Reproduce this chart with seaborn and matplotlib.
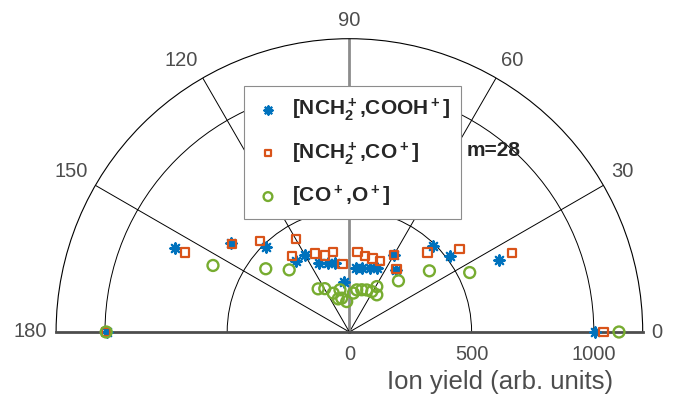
import numpy as np
import matplotlib
matplotlib.use("Agg")
import matplotlib.pyplot as plt
import seaborn as sns

# ---------------- data (angles in degrees, yields in arb. units) ----------------
theta_nch2_cooh = [180, 154.2, 143.1, 134.4, 126.9, 120.0, 113.6, 107.5, 101.5, 95.7,
                   84.3, 78.5, 72.5, 66.4, 60.0, 53.1, 45.6, 36.9, 25.8, 0]
r_nch2_cooh = [992, 792, 608, 486, 361, 366, 309, 297, 289, 207,
               264, 268, 275, 286, 364, 317, 491, 517, 680, 1005]

theta_nch2_co = [180, 154.2, 143.1, 134.4, 126.9, 120.0, 113.6, 107.5, 101.5, 95.7,
                 84.3, 78.5, 72.5, 66.4, 60.0, 53.1, 45.6, 36.9, 25.8, 0]
r_nch2_co = [995, 746, 600, 521, 389, 439, 351, 328, 334, 279,
             330, 318, 316, 316, 365, 322, 456, 564, 740, 1039]

theta_co_o = [180, 154.0, 142.9, 134.1, 125.9, 119.6, 112.6, 108.6, 102.6, 102.9, 95.1,
              84.2, 80.1, 73.7, 67.6, 61.0, 58.9, 53.6, 46.2, 37.4, 26.3, 0]
r_co_o = [995, 621, 429, 354, 218, 204, 172, 143, 177, 142, 125,
          160, 175, 180, 186, 189, 217, 189, 290, 412, 549, 1103]

labels = [r"[NCH$_2^+$,COOH$^+$]", r"[NCH$_2^+$,CO$^+$]", r"[CO$^+$,O$^+$]"]
theta_ticks = [0, 30, 60, 90, 120, 150, 180]
r_ticks = [0, 500, 1000]
r_max = 1200
annotation = "m=28"
r_label = "Ion yield (arb. units)"

# ---------------- styling ----------------
sns.set_style("white")
plt.rcParams["font.family"] = ["Liberation Sans", "DejaVu Sans"]
plt.rcParams["mathtext.fontset"] = "custom"
plt.rcParams["mathtext.rm"] = "Liberation Sans"
plt.rcParams["mathtext.bf"] = "Liberation Sans:bold"
plt.rcParams["mathtext.default"] = "bf"

c_blue, c_orange, c_green = "#0072BD", "#D95319", "#77AC30"
tick_color = "#4d4d4d"
tick_fs = 14.5

W, H = 674.0, 398.0
cx, cy, R = 349.4, 332.0, 293.3          # origin (px from top-left) and outer radius
box_cy = cy - R / 2
fig = plt.figure(figsize=(6.74, 3.98), dpi=100)
ax = fig.add_axes([(cx - R) / W, (H - box_cy - R) / H, 2 * R / W, 2 * R / H],
                  projection="polar")
ax.set_thetamin(0)
ax.set_thetamax(180)
ax.set_ylim(0, r_max)

# grid
ax.set_thetagrids(theta_ticks, [""] * len(theta_ticks))
ax.set_rgrids([500, 1000], labels=["", ""])
ax.grid(True, color="black", linewidth=0.7)
for t, gl in zip(theta_ticks, ax.xaxis.get_gridlines()):
    if t == 90:
        gl.set_color("#8c8c8c")
        gl.set_linewidth(2.0)
ax.tick_params(axis="both", length=0)

ax.spines["polar"].set_color("black")
ax.spines["polar"].set_linewidth(0.8)
for s in ("start", "end"):
    ax.spines[s].set_color("#4d4d4d")
    ax.spines[s].set_linewidth(2.0)
ax.spines["inner"].set_visible(False)

# theta tick labels, edge-aligned just outside the outer arc
gap = 6.5  # points
for t in theta_ticks:
    c, s = np.cos(np.deg2rad(t)), np.sin(np.deg2rad(t))
    ha = "left" if c > 0.1 else ("right" if c < -0.1 else "center")
    va = "bottom" if s > 0.1 else "center"
    ax.annotate(str(t), xy=(np.deg2rad(t), r_max), xycoords="data",
                xytext=(gap * c, gap * s), textcoords="offset points",
                ha=ha, va=va, fontsize=tick_fs, color=tick_color,
                annotation_clip=False)

# data
sns.scatterplot(x=np.deg2rad(theta_nch2_cooh), y=r_nch2_cooh, ax=ax, marker=(8, 2, 0),
                s=55, color=c_blue, edgecolor=c_blue, linewidth=1.6, label=labels[0],
                clip_on=False, zorder=5)
sns.scatterplot(x=np.deg2rad(theta_nch2_co), y=r_nch2_co, ax=ax, marker="s",
                s=36, facecolors="none", edgecolor=c_orange, linewidth=1.6, label=labels[1],
                clip_on=False, zorder=6)
sns.scatterplot(x=np.deg2rad(theta_co_o), y=r_co_o, ax=ax, marker="o",
                s=62, facecolors="none", edgecolor=c_green, linewidth=1.7, label=labels[2],
                clip_on=False, zorder=7)
ax.set_xlabel("")
ax.set_ylabel("")

# r tick labels along the baseline
for rv in r_ticks:
    ax.annotate(str(rv), xy=(0, rv), xycoords="data", xytext=(0, -9),
                textcoords="offset points", ha="center", va="top",
                fontsize=tick_fs, color=tick_color, annotation_clip=False)

fig.text(500 / W, 1 - 382 / H, r_label, ha="center", va="center",
         fontsize=18.5, color=tick_color)
fig.text(467 / W, 1 - 150 / H, annotation, ha="left", va="center",
         fontsize=15, fontweight="bold", color="#262626")

leg = ax.legend(loc="upper left", bbox_to_anchor=(243.5 / W, 1 - 86 / H),
                bbox_transform=fig.transFigure, borderaxespad=0, frameon=True,
                fancybox=False, framealpha=1, edgecolor="#8c8c8c",
                prop={"weight": "bold", "size": 15}, labelspacing=0.8,
                handletextpad=0.5, borderpad=0.5, handlelength=1.35, markerscale=0.8)
leg.get_frame().set_linewidth(0.8)
leg.set_zorder(10)

fig.savefig("out.png", dpi=100)
